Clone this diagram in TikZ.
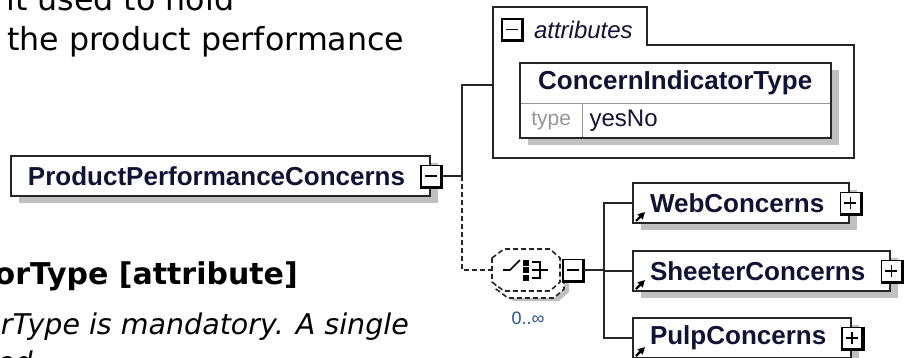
\documentclass[tikz,border=0pt]{standalone}
\usepackage{fontspec}
\usepackage{xcolor}
\usepackage{tikz}
\usetikzlibrary{arrows.meta,positioning,shadows,backgrounds,calc}
\newfontfamily\diagfont{Liberation Sans}
\newfontfamily\docfont{DejaVu Sans}
\definecolor{shadowgray}{RGB}{192,192,192}
\definecolor{inknavy}{RGB}{18,18,52}
\definecolor{celline}{RGB}{150,150,150}
\definecolor{typegray}{RGB}{150,150,150}
\definecolor{occblue}{RGB}{40,80,150}

\begin{document}
\begin{tikzpicture}[
    x=1pt, y=-1pt,
    conn/.style={draw=black!85, line width=2pt},
    elem/.style={draw=black!85, line width=2pt, fill=white, inner sep=0pt, minimum height=40pt, text=inknavy,
        font=\diagfont\bfseries\fontsize{26pt}{28pt}\selectfont,
        execute at begin node=\hspace*{17pt}, execute at end node=\hspace*{25pt},
        drop shadow={shadow xshift=8pt, shadow yshift=-7pt, fill=shadowgray, opacity=1}},
    btn/.style={draw=black, line width=1.6pt, fill=white, minimum width=20pt, minimum height=21pt, inner sep=0pt},
    btnminus/.style={btn, path picture={\draw[line width=1.8pt] ([xshift=-6pt]path picture bounding box.center) -- ([xshift=6pt]path picture bounding box.center);}},
    btnplus/.style={btn, path picture={\draw[line width=1.6pt] ([xshift=-6pt]path picture bounding box.center) -- ([xshift=6pt]path picture bounding box.center)
        ([yshift=-6pt]path picture bounding box.center) -- ([yshift=6pt]path picture bounding box.center);}},
    cell/.style={fill=white, inner sep=0pt, minimum height=34pt, text=inknavy, font=\diagfont\fontsize{24pt}{26pt}\selectfont},
    doctext/.style={inner sep=0pt, text=black, font=\docfont\fontsize{31.7pt}{36pt}\selectfont},
    seqline/.style={draw=black!85, line width=1.6pt, dash pattern=on 5pt off 3pt, fill=white},
    seqshadow/.style={fill=shadowgray, draw=none}
]
\useasboundingbox (0,0) rectangle (908,357);
\clip (0,0) rectangle (908,357);

% text of the page round the diagram
\node[doctext, anchor=base west] (intro1) at (6,10) {it used to hold};
\node[doctext, anchor=base west] (intro2) at (7,50) {the product performance};
\node[doctext, anchor=base east, font=\docfont\bfseries\fontsize{30pt}{34pt}\selectfont] (attrhead) at (298,284) {orType [attribute]};
\node[doctext, anchor=base east, font=\docfont\itshape\fontsize{28.5pt}{34pt}\selectfont] (attrdesc) at (409,334) {rType is mandatory. A single};
\node[doctext, anchor=base east, font=\docfont\itshape\fontsize{28.5pt}{34pt}\selectfont] (attrmore) at (33,372) {ed};

% root element
\node[elem, anchor=west] (root) at (10,176) {ProductPerformanceConcerns};
\node[btnminus] (rootbtn) at (root.east) {};
\coordinate (j1) at ([xshift=20pt]rootbtn.east);

% attributes group
\coordinate (attrin) at (493,85);
\draw[conn] (493,158) -- (493,7) -- (647,7) -- (647,45) -- (854,45) -- (854,158) -- cycle;
\node[btnminus] (attrbtn) at (512,29.5) {};
\node[right=11pt of attrbtn, inner sep=0pt, text=inknavy, font=\diagfont\itshape\fontsize{24pt}{26pt}\selectfont] (attrlbl) {attributes};

\node[cell, anchor=north west, minimum width=310pt, minimum height=40pt, font=\diagfont\bfseries\fontsize{26pt}{28pt}\selectfont] (cit) at (520,63) {ConcernIndicatorType};
\node[cell, below right=0pt and 0pt of cit.south west, minimum width=62pt, text=typegray, font=\diagfont\fontsize{21pt}{24pt}\selectfont] (cittype) {type};
\node[cell, right=0pt of cittype, text width=234pt, align=left, inner xsep=7pt] (cityes) {yesNo};
\begin{scope}[on background layer]
  \fill[white] (0,0) rectangle (908,357);
  \fill[shadowgray] ([shift={(8,7)}]cit.north west) rectangle ([shift={(8,7)}]cityes.south east);
\end{scope}
\draw[line width=1.6pt, celline] (cit.south west) -- (cit.south east) (cittype.north east) -- (cittype.south east);
\draw[conn] (cit.north west) rectangle (cityes.south east);

% sequence compositor
\node[minimum width=68pt, minimum height=42pt, inner sep=0pt] (seq) at (526,270) {};
\foreach \dx/\dy/\sty in {9/10/seqshadow, 4/7/seqline, 0/0/seqline}
  \path[\sty] ($(seq.center)+(\dx,\dy)$) ++(-34,-12) -- ++(12,-9) -- ++(46,0) -- ++(10,9) -- ++(0,24)
      -- ++(-10,9) -- ++(-46,0) -- ++(-12,-9) -- cycle;
\draw[line width=1.6pt] ([xshift=-23pt]seq.center) -- ([xshift=-16pt]seq.center) -- ([shift={(-6,-10)}]seq.center);
\foreach \dy in {-7.5,0,7.5}
  \fill ([shift={(-3,\dy-3)}]seq.center) rectangle ([shift={(3,\dy+3)}]seq.center);
\draw[line width=1.6pt] ([shift={(6,-8)}]seq.center) -- ++(8,0) -- ++(0,16) -- ++(-8,0)
    ([shift={(6,0)}]seq.center) -- ++(16,0);
\node[btnminus, right=2pt of seq] (seqbtn) {};
\node[inner sep=0pt, text=occblue, font=\diagfont\fontsize{18pt}{20pt}\selectfont] (seqocc) at (528,318) {0..∞};
\coordinate (j2) at ([xshift=20pt]seqbtn.east);

% child elements
\node[elem, anchor=west] (web) at (632,203) {WebConcerns};
\node[elem, below right=26pt and 0pt of web.south west] (sheeter) {SheeterConcerns};
\node[elem, below right=25pt and 0pt of sheeter.south west] (pulp) {PulpConcerns};
\foreach \n in {web,sheeter,pulp} {
  \node[btnplus] (btn\n) at (\n.east) {};
  \draw[-{Triangle[length=7pt,width=7pt]}, line width=2.4pt] ([shift={(4,-3)}]\n.south west) -- ++(9,-9);
}
\foreach \b in {rootbtn,attrbtn,seqbtn,btnweb,btnsheeter,btnpulp}
  \draw[line width=3pt] (\b.north east) -- (\b.south east) -- (\b.south west);

% connectors
\draw[conn] (rootbtn.east) -- (j1) |- (attrin);
\draw[conn, line width=1.6pt, dash pattern=on 5pt off 3pt] (j1) |- (seq.west);
\draw[conn] (seqbtn.east) -- (j2) |- (web.west);
\draw[conn] (j2) |- (sheeter.west);
\draw[conn] (j2) |- (pulp.west);
\end{tikzpicture}
\end{document}
